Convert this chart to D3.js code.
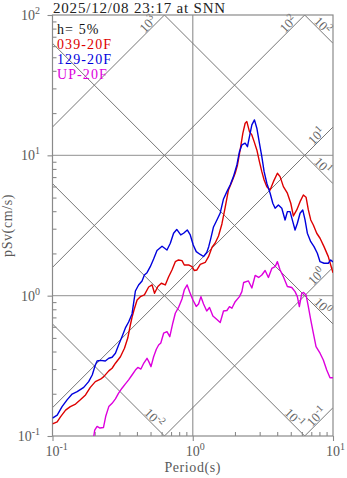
<!DOCTYPE html>
<html>
<head>
<meta charset="utf-8">
<script src="https://cdn.jsdelivr.net/npm/d3@7"></script>
<style>
  body { margin: 0; background: #fff; }
  text { font-family: "Liberation Serif", "Times New Roman", serif; }
</style>
</head>
<body>
<svg id="chart" width="347" height="478"></svg>
<script>
// Pseudo-velocity response spectra (h = 5%) on a tripartite grid.
const title = "2025/12/08 23:17 at SNN";
const damping = "h= 5%";
const seriesNames = ["039-20F", "129-20F", "UP-20F"];
const seriesColors = ["#dd0000", "#0000dd", "#dd00dd"];

// 039-20F: period (s) and pSv (cm/s)
const period039 = [
  0.100, 0.108, 0.114, 0.124, 0.134, 0.146, 0.158, 0.172, 0.186, 0.202,
  0.220, 0.232, 0.252, 0.266, 0.281, 0.305, 0.326, 0.344, 0.359, 0.371,
  0.383, 0.401, 0.423, 0.452, 0.485, 0.513, 0.534, 0.564, 0.597, 0.637,
  0.672, 0.711, 0.751, 0.792, 0.838, 0.870, 0.934, 0.987, 1.025, 1.071,
  1.131, 1.227, 1.296, 1.370, 1.446, 1.526, 1.614, 1.703, 1.798, 1.901,
  2.007, 2.084, 2.178, 2.277, 2.364, 2.431, 2.537, 2.639, 2.740, 2.864,
  2.988, 3.108, 3.228, 3.374, 3.562, 3.760, 4.014, 4.195, 4.429, 4.728,
  5.000, 5.217, 5.515, 5.823, 6.146, 6.424, 6.671, 6.940, 7.241, 7.656,
  8.083, 8.628, 9.259, 9.630, 10.00
];
const psv039 = [
  0.122, 0.126, 0.137, 0.153, 0.162, 0.169, 0.181, 0.196, 0.222, 0.244,
  0.254, 0.265, 0.291, 0.304, 0.330, 0.367, 0.422, 0.499, 0.618, 0.717,
  0.804, 0.932, 0.984, 1.012, 1.153, 1.192, 1.040, 1.163, 1.226, 1.192,
  1.359, 1.525, 1.747, 1.797, 1.777, 1.655, 1.655, 1.609, 1.512, 1.525,
  1.669, 1.724, 1.897, 2.206, 2.374, 2.664, 3.244, 4.253, 5.667, 6.494,
  7.454, 8.541, 10.93, 14.38, 16.93, 17.39, 14.75, 13.98, 12.52, 10.93,
  9.017, 7.650, 6.678, 5.983, 5.667, 6.494, 7.454, 7.052, 5.983, 5.370,
  4.556, 3.699, 4.081, 4.677, 5.221, 5.028, 4.081, 3.464, 3.190, 2.785,
  2.565, 2.235, 1.897, 1.655, 1.458
];

// 129-20F
const period129 = [
  0.100, 0.108, 0.117, 0.127, 0.138, 0.150, 0.167, 0.181, 0.192, 0.202,
  0.208, 0.220, 0.238, 0.252, 0.266, 0.281, 0.296, 0.313, 0.331, 0.349,
  0.369, 0.379, 0.390, 0.411, 0.435, 0.452, 0.472, 0.498, 0.526, 0.556,
  0.604, 0.655, 0.692, 0.730, 0.769, 0.821, 0.860, 0.914, 0.960, 1.008,
  1.059, 1.131, 1.194, 1.258, 1.300, 1.348, 1.406, 1.487, 1.570, 1.657,
  1.752, 1.849, 1.951, 2.064, 2.153, 2.240, 2.364, 2.455, 2.567, 2.639,
  2.754, 2.864, 2.988, 3.108, 3.228, 3.374, 3.562, 3.722, 3.866, 4.080,
  4.314, 4.553, 4.728, 4.943, 5.168, 5.364, 5.570, 5.823, 6.085, 6.319,
  6.563, 6.940, 7.324, 7.732, 8.083, 8.628, 9.259, 9.630, 10.00
];
const psv129 = [
  0.134, 0.141, 0.162, 0.181, 0.199, 0.207, 0.222, 0.244, 0.272, 0.321,
  0.342, 0.346, 0.342, 0.358, 0.364, 0.389, 0.445, 0.510, 0.589, 0.649,
  0.741, 0.887, 1.080, 1.192, 1.273, 1.404, 1.458, 1.609, 1.827, 2.100,
  2.250, 2.117, 2.363, 2.785, 2.964, 2.709, 2.785, 2.939, 2.709, 2.298,
  2.059, 1.966, 1.902, 2.032, 2.235, 2.578, 3.088, 3.464, 3.886, 4.890,
  5.512, 6.152, 7.052, 8.541, 10.62, 11.86, 12.20, 11.53, 14.38, 16.47,
  17.88, 15.61, 12.20, 9.790, 7.650, 6.326, 5.370, 4.556, 4.198, 4.431,
  4.198, 3.464, 3.969, 3.969, 3.369, 2.939, 3.281, 3.867, 4.081, 3.464,
  2.785, 2.426, 2.235, 2.005, 1.747, 1.702, 1.702, 1.797, 1.739
];

// UP-20F
const periodUP = [
  0.197, 0.200, 0.208, 0.218, 0.231, 0.240, 0.252, 0.266, 0.281, 0.296,
  0.313, 0.331, 0.349, 0.369, 0.390, 0.406, 0.427, 0.448, 0.472, 0.486,
  0.504, 0.526, 0.550, 0.571, 0.592, 0.620, 0.655, 0.686, 0.721, 0.751,
  0.792, 0.838, 0.870, 0.912, 0.949, 1.003, 1.059, 1.100, 1.144, 1.194,
  1.258, 1.317, 1.392, 1.487, 1.570, 1.657, 1.752, 1.828, 1.901, 2.007,
  2.153, 2.240, 2.307, 2.496, 2.639, 2.786, 2.950, 3.108, 3.281, 3.463,
  3.662, 3.866, 4.014, 4.195, 4.429, 4.728, 5.082, 5.364, 5.570, 5.756,
  5.987, 6.166, 6.424, 6.671, 6.940, 7.241, 7.568, 8.083, 8.531, 9.020,
  9.520, 10.00
];
const psvUP = [
  0.100, 0.110, 0.117, 0.114, 0.115, 0.139, 0.162, 0.171, 0.184, 0.202,
  0.219, 0.235, 0.251, 0.272, 0.295, 0.308, 0.300, 0.331, 0.358, 0.339,
  0.312, 0.367, 0.415, 0.445, 0.460, 0.540, 0.554, 0.510, 0.639, 0.749,
  0.824, 0.947, 1.098, 1.192, 1.068, 0.932, 0.838, 0.873, 0.984, 0.873,
  0.778, 0.824, 0.717, 0.677, 0.644, 0.778, 0.784, 0.835, 0.813, 0.906,
  0.984, 1.068, 1.242, 1.273, 1.135, 1.393, 1.348, 1.404, 1.512, 1.348,
  1.562, 1.609, 1.747, 1.525, 1.366, 1.163, 1.144, 1.068, 0.984, 0.835,
  1.040, 1.054, 1.012, 0.835, 0.671, 0.540, 0.433, 0.389, 0.348, 0.295,
  0.260, 0.260
];

// Tripartite reference lines: acceleration (cm/s^2) and displacement (cm)
const accelLevels = [0.1, 1, 10, 100, 1000];
const dispLevels = [0.01, 0.1, 1, 10, 100];

// Axis tick values
const xMajor = [0.1, 1, 10];
const yMajor = [0.1, 1, 10, 100];

const svg = d3.select("#chart");
const L = 52.5, R = 333, T = 15, B = 436;
const x = d3.scaleLog().domain([0.1, 10]).range([L, R]);
const y = d3.scaleLog().domain([0.1, 100]).range([B, T]);

const minorOf = majors => majors.slice(0, -1).flatMap(d => d3.range(2, 10).map(k => k * d));

svg.append("defs").append("clipPath").attr("id", "plot")
  .append("rect").attr("x", L).attr("y", T).attr("width", R - L).attr("height", B - T);

// decade grid
const grid = svg.append("g").attr("stroke", "#a6a6a6").attr("stroke-width", 1.4);
grid.selectAll("line.gx").data([1]).join("line")
  .attr("x1", d => x(d)).attr("x2", d => x(d)).attr("y1", T).attr("y2", B);
grid.selectAll("line.gy").data([1, 10]).join("line")
  .attr("x1", L).attr("x2", R).attr("y1", d => y(d)).attr("y2", d => y(d));

// diagonal lines
const TWO_PI = 2 * Math.PI;
const diag = svg.append("g").attr("clip-path", "url(#plot)")
  .attr("stroke", "#767676").attr("stroke-width", 1).attr("fill", "none");
accelLevels.forEach(a => {
  diag.append("line")
    .attr("x1", x(0.1)).attr("y1", y(a * 0.1 / TWO_PI))
    .attr("x2", x(10)).attr("y2", y(a * 10 / TWO_PI));
});
dispLevels.forEach(dd => {
  diag.append("line")
    .attr("x1", x(0.1)).attr("y1", y(TWO_PI * dd / 0.1))
    .attr("x2", x(10)).attr("y2", y(TWO_PI * dd / 10));
});

// labels at the visible end of each diagonal
const diagLabels = svg.append("g").attr("fill", "#666").attr("font-size", 13);
function expLabel(sel, e) {
  sel.append("tspan").text("10");
  sel.append("tspan").attr("font-size", 10).attr("dy", -5).text(String(e));
}
const r2 = Math.SQRT1_2;
accelLevels.forEach(a => {
  const tEnd = Math.min(10, TWO_PI * 100 / a);
  const px = x(tEnd), py = y(a * tEnd / TWO_PI);
  const back = 18, perp = 5;
  const cx = px - back * r2 - perp * r2, cy = py + back * r2 - perp * r2;
  const t = diagLabels.append("text").attr("text-anchor", "middle")
    .attr("transform", `translate(${cx},${cy}) rotate(-45)`).attr("dy", 4);
  expLabel(t, Math.round(Math.log10(a)));
});
dispLevels.forEach(dd => {
  const tEnd = Math.min(10, TWO_PI * dd / 0.1);
  const px = x(tEnd), py = y(TWO_PI * dd / tEnd);
  const back = 20, perp = 5;
  const cx = px - back * r2 + perp * r2, cy = py - back * r2 - perp * r2;
  const t = diagLabels.append("text").attr("text-anchor", "middle")
    .attr("transform", `translate(${cx},${cy}) rotate(45)`).attr("dy", 4);
  expLabel(t, Math.round(Math.log10(dd)));
});

// frame
svg.append("rect").attr("x", L).attr("y", T).attr("width", R - L).attr("height", B - T)
  .attr("fill", "none").attr("stroke", "#8a8a8a").attr("stroke-width", 1.2);

// axes: major ticks outward, minor ticks inward
function styleAxis(g) {
  g.select(".domain").remove();
  g.selectAll(".tick line").attr("stroke", "#8a8a8a").attr("stroke-width", 1.1);
  g.selectAll(".tick text").remove();
}
svg.append("g").attr("transform", `translate(0,${B})`)
  .call(d3.axisBottom(x).tickValues(xMajor).tickSize(5).tickFormat("")).call(styleAxis);
svg.append("g").attr("transform", `translate(0,${B})`)
  .call(d3.axisBottom(x).tickValues(minorOf(xMajor)).tickSize(-4).tickFormat("")).call(styleAxis);
svg.append("g").attr("transform", `translate(${L},0)`)
  .call(d3.axisLeft(y).tickValues(yMajor).tickSize(5).tickFormat("")).call(styleAxis);
svg.append("g").attr("transform", `translate(${L},0)`)
  .call(d3.axisLeft(y).tickValues(minorOf(yMajor)).tickSize(-4).tickFormat("")).call(styleAxis);

// tick labels
const tickLab = svg.append("g").attr("fill", "#5a5a5a").attr("font-size", 14);
function tickExp(sel, e) {
  sel.append("tspan").text("10");
  sel.append("tspan").attr("font-size", 10).attr("dy", -6).text(String(e));
}
xMajor.forEach(v => {
  const t = tickLab.append("text").attr("x", x(v) - 7).attr("y", 456);
  tickExp(t, Math.round(Math.log10(v)));
});
yMajor.forEach(v => {
  const t = tickLab.append("text").attr("x", 40).attr("y", y(v) + 5).attr("text-anchor", "end");
  tickExp(t, Math.round(Math.log10(v)));
});

// axis titles
svg.append("text").attr("x", (L + R) / 2).attr("y", 472).attr("text-anchor", "middle")
  .attr("font-size", 14).attr("fill", "#5a5a5a").attr("letter-spacing", 0.6).text("Period(s)");
svg.append("text").attr("transform", `translate(12,${(T + B) / 2}) rotate(-90)`)
  .attr("text-anchor", "middle").attr("font-size", 14).attr("fill", "#5a5a5a")
  .attr("letter-spacing", 0.6).text("pSv(cm/s)");

// spectra
const line = d3.line().x(d => x(d[0])).y(d => y(d[1]));
const curves = [
  [period039, psv039],
  [period129, psv129],
  [periodUP, psvUP]
];
const curveG = svg.append("g").attr("clip-path", "url(#plot)");
curves.forEach(([ts, vs], i) => {
  curveG.append("path")
    .datum(ts.map((t, k) => [t, vs[k]]))
    .attr("d", line).attr("fill", "none")
    .attr("stroke", seriesColors[i]).attr("stroke-width", 1.4)
    .attr("stroke-linejoin", "round");
});

// title and legend
svg.append("text").attr("x", 53).attr("y", 13).attr("font-size", 15)
  .attr("fill", "#222").attr("letter-spacing", 0.8).text(title);
const leg = svg.append("g").attr("font-size", 14).attr("letter-spacing", 1.1);
leg.append("text").attr("x", 57).attr("y", 34).attr("fill", "#111").text(damping);
seriesNames.forEach((n, i) => {
  leg.append("text").attr("x", 57).attr("y", 49 + i * 15).attr("fill", seriesColors[i]).text(n);
});
</script>
</body>
</html>
